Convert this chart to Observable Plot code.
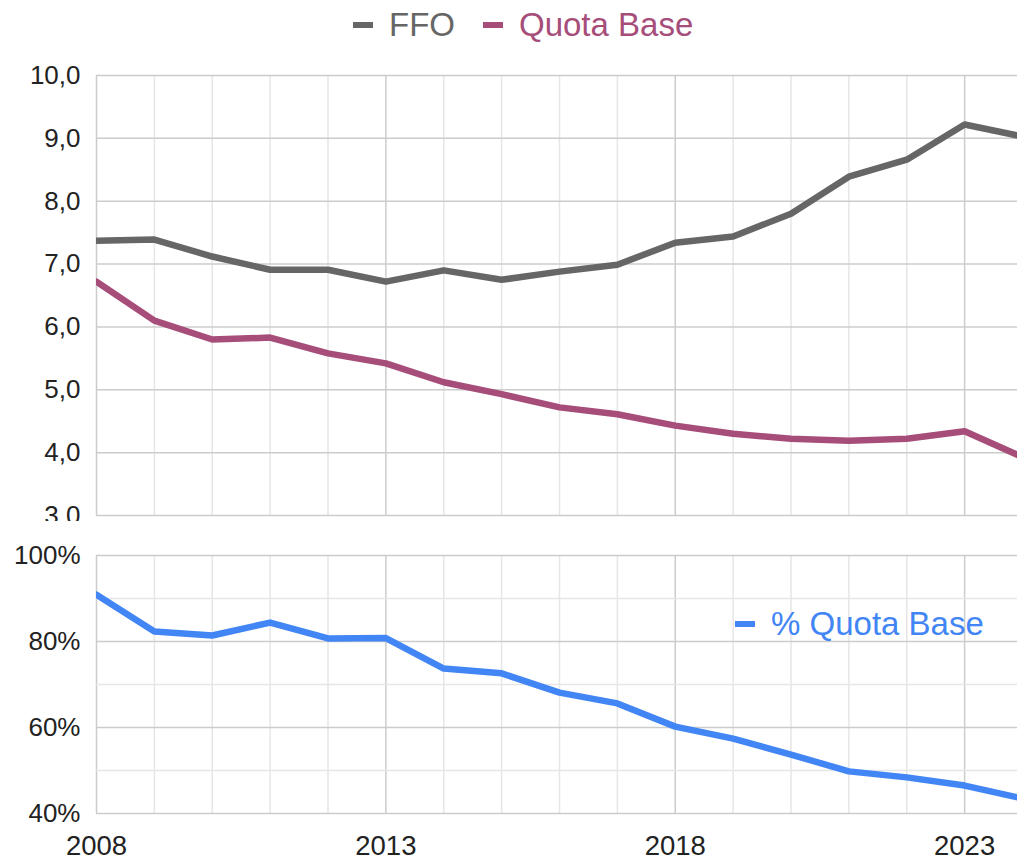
<!DOCTYPE html>
<html><head><meta charset="utf-8">
<script src="https://cdn.jsdelivr.net/npm/d3@7"></script>
<script src="https://cdn.jsdelivr.net/npm/@observablehq/plot@0.6"></script>
<style>
html,body{margin:0;padding:0;background:#fff;overflow:hidden;width:1017px;height:857px;}
#wrap{position:relative;width:1017px;height:857px;overflow:hidden;font-family:"Liberation Sans",Arial,sans-serif;}
#topChart{position:absolute;left:0;top:50px;width:1022px;}
#bottomChart{position:absolute;left:0;top:530px;width:1022px;}
#wrap svg{max-width:none !important;}
.leg{position:absolute;display:flex;align-items:center;font-size:33px;line-height:33px;height:33px;white-space:nowrap;}
.sw{display:inline-block;width:20px;height:6px;margin-right:16px;}
</style></head>
<body><div id="wrap">
<div id="topChart"></div>
<div id="bottomChart"></div>
<div class="leg" style="left:353px;top:8px;color:#666666"><span class="sw" style="background:#666666"></span>FFO</div>
<div class="leg" style="left:483px;top:8px;color:#a64d79"><span class="sw" style="background:#a64d79"></span>Quota Base</div>
<div class="leg" style="left:735px;top:607px;color:#4285f4"><span class="sw" style="background:#4285f4"></span>% Quota Base</div>
</div>
<script>
const years = [2008,2009,2010,2011,2012,2013,2014,2015,2016,2017,2018,2019,2020,2021,2022,2023,2024];
const ffo = [7.37,7.39,7.12,6.91,6.91,6.72,6.90,6.75,6.88,6.99,7.34,7.44,7.80,8.39,8.66,9.22,9.03];
const quotaBase = [6.72,6.10,5.80,5.83,5.58,5.42,5.12,4.93,4.72,4.61,4.43,4.30,4.22,4.19,4.22,4.34,3.93];
const pctQuotaBase = [90.9,82.3,81.4,84.4,80.7,80.8,73.7,72.6,68.1,65.6,60.2,57.4,53.7,49.8,48.4,46.5,43.5];
const majorYears = [2008,2013,2018,2023];
const minorYears = [2009,2010,2011,2012,2014,2015,2016,2017,2019,2020,2021,2022,2024];
const topTicks = [3,4,5,6,7,8,9,10];
const pctTicks = [40,60,80,100];
const pctMinor = [50,70,90];

const font = '"Liberation Sans", Arial, sans-serif';
const gridMajor = "#cccccc", gridMinor = "#e6e6e6";

const rows = years.map((y,i) => ({year:y, ffo:ffo[i], qb:quotaBase[i], pct:pctQuotaBase[i]}));

const topPlot = Plot.plot({
  width:1022, height:471, marginLeft:96, marginRight:0, marginTop:25, marginBottom:6,
  x:{domain:[2008,2024], axis:null},
  y:{domain:[3,10], ticks:topTicks, tickFormat:d=>d.toFixed(1).replace(".",","), tickSize:0, tickPadding:16, label:null},
  style:{fontFamily:font, fontSize:"26px", color:"#222", background:"transparent", maxWidth:"none"},
  marks:[
    Plot.ruleX(minorYears, {x:d=>d, stroke:gridMinor, strokeWidth:1.5}),
    Plot.ruleX(majorYears, {x:d=>d, stroke:gridMajor, strokeWidth:1.5}),
    Plot.ruleY(topTicks, {y:d=>d, stroke:gridMajor, strokeWidth:1.5}),
    Plot.line(rows, {x:"year", y:"ffo", stroke:"#666666", strokeWidth:6.5, clip:true}),
    Plot.line(rows, {x:"year", y:"qb", stroke:"#a64d79", strokeWidth:6.5, clip:true})
  ]
});
document.getElementById("topChart").appendChild(topPlot);

const bottomPlot = Plot.plot({
  width:1022, height:327, marginLeft:96, marginRight:0, marginTop:25, marginBottom:44,
  x:{domain:[2008,2024]},
  y:{domain:[40,100], ticks:pctTicks, tickFormat:d=>d+"%", tickSize:0, tickPadding:16, label:null},
  style:{fontFamily:font, fontSize:"26px", color:"#222", background:"transparent", maxWidth:"none"},
  marks:[
    Plot.axisX({ticks:majorYears, tickFormat:d=>String(d), tickSize:0, tickPadding:22, label:null, fontSize:27.5}),
    Plot.ruleX(minorYears, {x:d=>d, stroke:gridMinor, strokeWidth:1.5}),
    Plot.ruleX(majorYears, {x:d=>d, stroke:gridMajor, strokeWidth:1.5}),
    Plot.ruleY(pctMinor, {y:d=>d, stroke:gridMinor, strokeWidth:1.5}),
    Plot.ruleY(pctTicks, {y:d=>d, stroke:gridMajor, strokeWidth:1.5}),
    Plot.line(rows, {x:"year", y:"pct", stroke:"#4285f4", strokeWidth:6.5, clip:true})
  ]
});
document.getElementById("bottomChart").appendChild(bottomPlot);
</script>
</body></html>
